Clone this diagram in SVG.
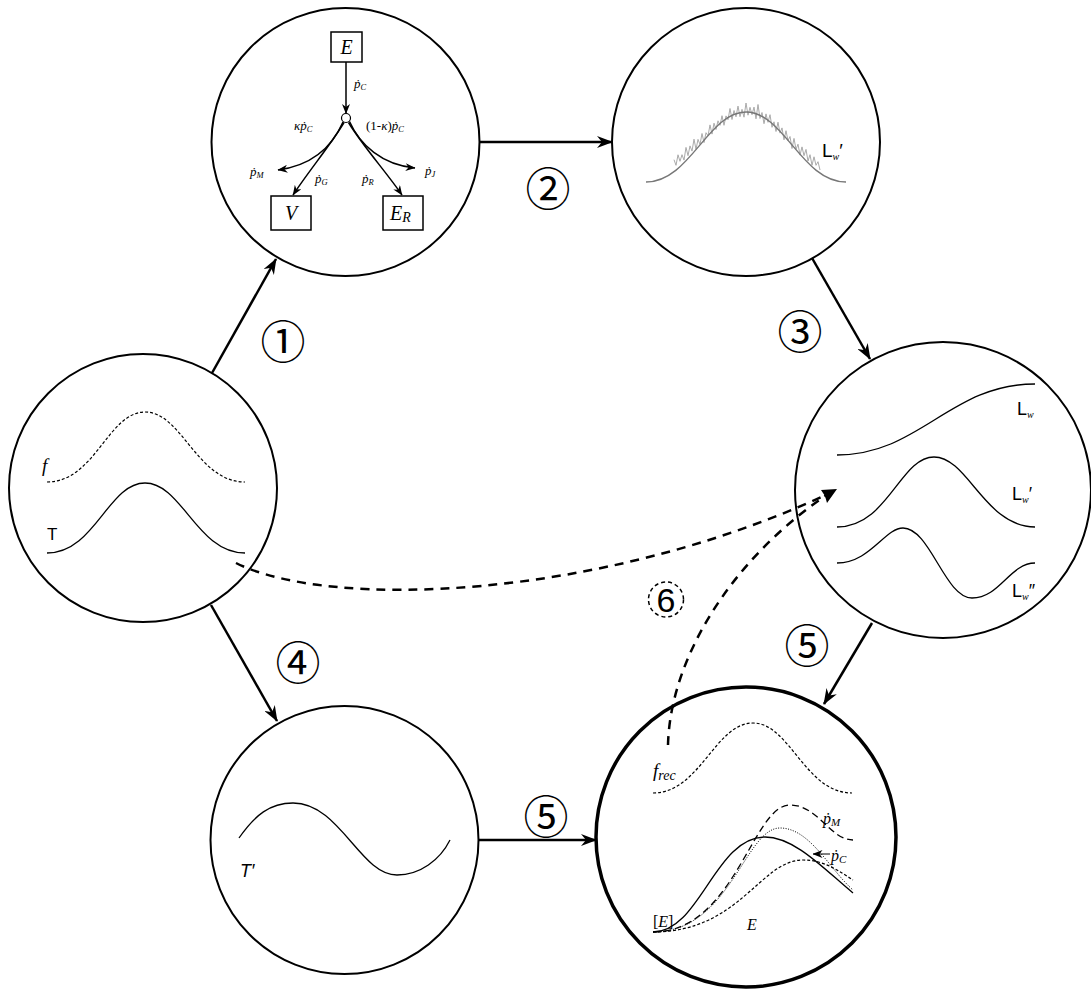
<svg xmlns="http://www.w3.org/2000/svg" width="1091" height="989" viewBox="0 0 1091 989">
<style>
  .ring { fill: #fff; stroke: #000; stroke-width: 2; }
  .ringb { fill: #fff; stroke: #000; stroke-width: 3.5; }
  .crv { fill: none; stroke: #000; stroke-width: 1.3; }
  .dsh { fill: none; stroke: #000; stroke-width: 1.2; stroke-dasharray: 3 2; }
  .ldsh { fill: none; stroke: #000; stroke-width: 1.3; stroke-dasharray: 7 4; }
  .dot { fill: none; stroke: #000; stroke-width: 1; stroke-dasharray: 1 1.5; }
  .conn { fill: none; stroke: #000; stroke-width: 2.5; marker-end: url(#arr); }
  .dconn { fill: none; stroke: #000; stroke-width: 2.5; stroke-dasharray: 9 7; }
  .inner { fill: none; stroke: #000; stroke-width: 1.5; marker-end: url(#arrs); }
  .box { fill: #fff; stroke: #000; stroke-width: 1.5; }
  .math { font-family: "Liberation Serif", "DejaVu Serif", serif; font-style: italic; fill: #000; }
  .sans { font-family: "Liberation Sans", "DejaVu Sans", sans-serif; fill: #000; }
  .num { font-family: "Noto Sans CJK JP", "DejaVu Sans", sans-serif; font-size: 45px; fill: #000; }
</style>
<defs>
  <marker id="arr" viewBox="0 0 16 12" refX="15" refY="6" markerWidth="16" markerHeight="12" markerUnits="userSpaceOnUse" orient="auto">
    <path d="M0,0 L16,6 L0,12 L5,6 z" fill="#000"/>
  </marker>
  <marker id="arrs" viewBox="0 0 10 8" refX="9.5" refY="4" markerWidth="10" markerHeight="8" markerUnits="userSpaceOnUse" orient="auto">
    <path d="M0,0 L10,4 L0,8 L3,4 z" fill="#000"/>
  </marker>
</defs>

<g id="node-flux">
  <circle class="ring" cx="345.5" cy="142" r="134"/>
  <rect class="box" x="331" y="32" width="31" height="30"/>
  <text class="math" x="346.5" y="54" font-size="20" text-anchor="middle">E</text>
  <line class="inner" x1="346" y1="62" x2="346" y2="113.5"/>
  <text class="math" x="354" y="88" font-size="13">ṗ<tspan font-size="8.5" dy="2">C</tspan></text>
  <circle cx="346" cy="118" r="4.5" fill="#fff" stroke="#000" stroke-width="1.2"/>
  <path class="inner" d="M343,122 C 333,145 315,165 278,170"/>
  <path class="inner" d="M344,122.5 C 332,143 308,172 293,195"/>
  <path class="inner" d="M348.5,122.5 C 362,145 387,173 402,195"/>
  <path class="inner" d="M349.5,121.5 C 360,145 382,165 415,168"/>
  <text class="math" x="294" y="130" font-size="13">κṗ<tspan font-size="8.5" dy="2">C</tspan></text>
  <text class="math" x="366" y="130" font-size="13"><tspan font-style="normal">(1-</tspan>κ<tspan font-style="normal">)</tspan>ṗ<tspan font-size="8.5" dy="2">C</tspan></text>
  <text class="math" x="250" y="176" font-size="13">ṗ<tspan font-size="8.5" dy="2">M</tspan></text>
  <text class="math" x="315" y="183" font-size="13">ṗ<tspan font-size="8.5" dy="2">G</tspan></text>
  <text class="math" x="362" y="183" font-size="13">ṗ<tspan font-size="8.5" dy="2">R</tspan></text>
  <text class="math" x="425" y="175" font-size="13">ṗ<tspan font-size="8.5" dy="2">J</tspan></text>
  <rect class="box" x="271" y="196" width="40" height="34"/>
  <text class="math" x="291" y="220" font-size="20" text-anchor="middle">V</text>
  <rect class="box" x="383" y="196" width="40" height="34"/>
  <text class="math" x="390" y="220" font-size="20">E<tspan font-size="14" dy="2">R</tspan></text>
</g>

<g id="node-noisy">
  <circle class="ring" cx="746" cy="142" r="134"/>
  <polyline fill="none" stroke="#aaa" stroke-width="1" points="674,159.7 676,165.3 678,154.8 680,161.3 682,154.7 684,160.1 686,147.4 688,155.7 690,145.9 692,151.1 694,139.2 696,149.3 698,139.4 700,144.5 702,133.5 704,142.6 706,132.7 708,135.8 710,124.9 712,134.1 714,123.2 716,129.5 718,120.8 720,125.3 722,115.7 724,125.3 726,115.9 728,119.7 730,108.5 732,119.5 734,110.5 736,116.8 738,106.1 740,116.7 742,109.3 744,117.2 746,103 748,115.2 750,107.3 752,114.7 754,107.1 756,118.8 758,104.5 760,118.5 762,112.5 764,123.7 766,113.9 768,122.3 770,114.7 772,127.3 774,121.8 776,131.5 778,122.2 780,133.1 782,127.9 784,139.8 786,130.7 788,140.6 790,136.5 792,148.5 794,138.4 796,149.3 798,144.2 800,155.1 802,146.9 804,155.7 806,149.4 808,161.1 810,154.7 812,165.3 814,156.8 816,165.3 818,161.7 820,170"/>
  <path fill="none" stroke="#777" stroke-width="1.4" d="M646,182 C 690,182 708,112 746,112 C 784,112 802,182 846,182"/>
  <text class="sans" x="822" y="157" font-size="19">L<tspan class="math" font-size="10" dy="3">w</tspan><tspan dy="-3">′</tspan></text>
</g>

<g id="node-input">
  <circle class="ring" cx="143" cy="488" r="134"/>
  <path class="dsh" d="M47,482 C 95,482 108,412 145,412 C 182,412 197,482 245,482"/>
  <text class="math" x="42" y="472" font-size="19">f</text>
  <path class="crv" d="M47,553 C 95,553 108,483 145,483 C 182,483 197,553 245,553"/>
  <text class="sans" x="47" y="540" font-size="17">T</text>
</g>

<g id="node-lw">
  <circle class="ring" cx="943" cy="490" r="148"/>
  <path class="crv" d="M837,455 C 920,455 950,384 1035,384"/>
  <text class="sans" x="1017" y="415" font-size="18">L<tspan class="math" font-size="10" dy="3">w</tspan></text>
  <path class="crv" d="M837,527 C 888,527 900,457 934,457 C 968,457 985,527 1035,527"/>
  <text class="sans" x="1012" y="500" font-size="18">L<tspan class="math" font-size="10" dy="3">w</tspan><tspan dy="-3">′</tspan></text>
  <path class="crv" d="M837,563 C 870,563 885,528 903,528 C 930,528 945,598 972,598 C 1000,598 1010,563 1035,563"/>
  <text class="sans" x="1012" y="597" font-size="18">L<tspan class="math" font-size="10" dy="3">w</tspan><tspan dy="-3">″</tspan></text>
</g>

<g id="node-tprime">
  <circle class="ring" cx="344.5" cy="840" r="134"/>
  <path class="crv" d="M239,838 C 255,815 270,803 293,803 C 340,803 360,875 397,875 C 420,875 440,860 450,840"/>
  <text class="sans" x="240" y="877" font-size="18" font-style="italic">T′</text>
</g>

<g id="node-result">
  <circle class="ringb" cx="746" cy="837" r="150"/>
  <path class="dsh" d="M653,793 C 700,793 715,723 753,723 C 790,723 805,793 852,793"/>
  <text class="math" x="653" y="777" font-size="19">f<tspan font-size="14" dy="3">rec</tspan></text>
  <path class="dsh" d="M653,932 C 740,932 760,860 803,860 C 825,860 840,872 853,880"/>
  <path class="dot" d="M653,932 C 730,932 745,828 780,828 C 810,828 830,870 853,890"/>
  <path class="ldsh" d="M653,932 C 735,932 752,805 790,805 C 818,805 830,840 853,840"/>
  <path class="crv" d="M653,932 C 700,932 715,837 765,837 C 795,837 825,870 853,893"/>
  <text class="math" x="823" y="824" font-size="16">ṗ<tspan font-size="11" dy="2">M</tspan></text>
  <line x1="830" y1="854" x2="813" y2="854" stroke="#000" stroke-width="1" marker-end="url(#arrs)"/>
  <text class="math" x="831" y="861" font-size="16">ṗ<tspan font-size="11" dy="2">C</tspan></text>
  <text class="math" x="653" y="927" font-size="16"><tspan font-style="normal">[</tspan>E<tspan font-style="normal">]</tspan></text>
  <text class="math" x="747" y="930" font-size="16">E</text>
</g>

<g id="connectors">
  <line class="conn" x1="212" y1="373" x2="276" y2="259"/>
  <line class="conn" x1="480" y1="142" x2="612" y2="142"/>
  <line class="conn" x1="812" y1="258" x2="870" y2="359"/>
  <line class="conn" x1="211" y1="605" x2="277" y2="721"/>
  <line class="conn" x1="479" y1="840" x2="596" y2="840"/>
  <line class="conn" x1="872" y1="623" x2="824" y2="704"/>
  <path class="dconn" d="M236,563 C 330,610 600,600 828,494"/>
  <path class="dconn" d="M668,745 C 670,660 730,560 828,494"/>
  <path d="M837,489 L821,490 L825,496 L827,503 z" fill="#000"/>
  <text class="num" x="283" y="339" text-anchor="middle" dominant-baseline="central">①</text>
  <text class="num" x="548" y="186" text-anchor="middle" dominant-baseline="central">②</text>
  <text class="num" x="800" y="329" text-anchor="middle" dominant-baseline="central">③</text>
  <text class="num" x="298" y="660" text-anchor="middle" dominant-baseline="central">④</text>
  <text class="num" x="546" y="814" text-anchor="middle" dominant-baseline="central">⑤</text>
  <text class="num" x="807" y="643" text-anchor="middle" dominant-baseline="central">⑤</text>
  <circle cx="666" cy="599.5" r="17.5" fill="none" stroke="#000" stroke-width="1.5" stroke-dasharray="4 3"/>
  <text class="sans" x="666" y="612" font-size="34" text-anchor="middle">6</text>
</g>
</svg>
